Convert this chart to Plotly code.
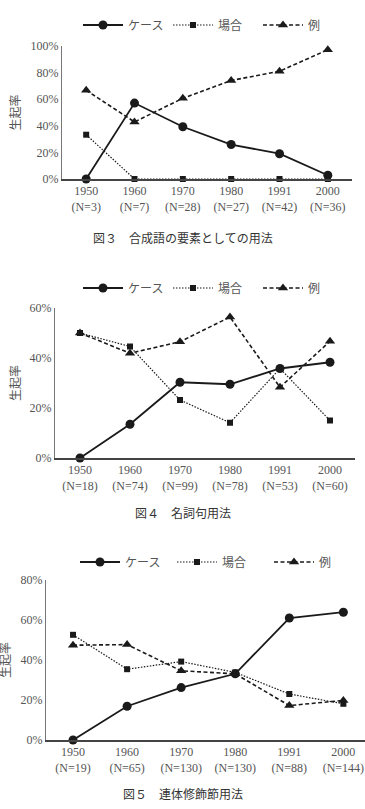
import plotly.graph_objects as go

# ---- data ----
years = ["1950", "1960", "1970", "1980", "1991", "2000"]
n1 = ["N=3", "N=7", "N=28", "N=27", "N=42", "N=36"]
n2 = ["N=18", "N=74", "N=99", "N=78", "N=53", "N=60"]
n3 = ["N=19", "N=65", "N=130", "N=130", "N=88", "N=144"]

series_names = ["ケース", "場合", "例"]

c1_case = [0.0, 57.1, 39.3, 25.9, 19.0, 2.8]
c1_baai = [33.3, 0.0, 0.0, 0.0, 0.0, 0.0]
c1_rei = [66.7, 42.9, 60.7, 74.1, 81.0, 97.2]

c2_case = [0.0, 13.5, 30.3, 29.5, 35.8, 38.3]
c2_baai = [50.0, 44.6, 23.2, 14.1, 35.8, 15.0]
c2_rei = [50.0, 41.9, 46.5, 56.4, 28.3, 46.7]

c3_case = [0.0, 16.9, 26.2, 33.1, 61.0, 63.9]
c3_baai = [52.6, 35.4, 39.2, 33.8, 23.0, 18.1]
c3_rei = [47.4, 47.7, 34.6, 33.1, 17.2, 19.8]

captions = ["図３　合成語の要素としての用法", "図４　名詞句用法", "図５　連体修飾節用法"]
ytitle = "生起率"

FONT = "Liberation Serif, Noto Sans CJK JP, serif"
GRAY = "#555555"
INK = "#1a1a1a"
H = 809
W = 365

def py(px):
    return 1 - px / H

def px_(x):
    return x / W

fig = go.Figure()

styles = [
    dict(dash="solid", width=1.8, symbol="circle", size=9),
    dict(dash="1.5px,1.5px", width=1.2, symbol="square", size=6),
    dict(dash="4px,2.5px", width=1.6, symbol="triangle-up", size=9),
]

charts = [
    dict(data=[c1_case, c1_baai, c1_rei], n=n1, xdom=[62, 352], ydom=[179, 46], yr=[0, 100],
         xr=[-0.5, 5.5], ticks=[0, 20, 40, 60, 80, 100], leg_y=25, leg_x=78, cap_y=239, yt_x=16,
         ew=35),
    dict(data=[c2_case, c2_baai, c2_rei], n=n2, xdom=[55, 355], ydom=[458, 308], yr=[0, 60],
         xr=[-0.5, 5.5], ticks=[0, 20, 40, 60], leg_y=288, leg_x=78, cap_y=513, yt_x=16,
         ew=35),
    dict(data=[c3_case, c3_baai, c3_rei], n=n3, xdom=[46, 365], ydom=[740, 580], yr=[0, 80],
         xr=[-0.5, 5.4], ticks=[0, 20, 40, 60, 80], leg_y=562, leg_x=75, cap_y=794, yt_x=6,
         ew=42),
]

layout = dict(
    width=W, height=H, margin=dict(l=0, r=0, t=0, b=0, autoexpand=False),
    paper_bgcolor="white", plot_bgcolor="white",
    font=dict(family=FONT, color=GRAY, size=12),
    showlegend=True,
)
annotations = []

for i, ch in enumerate(charts):
    k = "" if i == 0 else str(i + 1)
    xa = "x" + k
    ya = "y" + k
    leg = "legend" + k
    for j, vals in enumerate(ch["data"]):
        st = styles[j]
        fig.add_trace(go.Scatter(
            x=list(range(len(years))), y=vals, name=series_names[j],
            xaxis=xa, yaxis=ya, legend=leg, mode="lines+markers",
            line=dict(color=INK, dash=st["dash"], width=st["width"]),
            marker=dict(symbol=st["symbol"], size=st["size"], color=INK),
            cliponaxis=False,
        ))
    ticktext = [f"{y}<br>({n})" for y, n in zip(years, ch["n"])]
    layout["xaxis" + k] = dict(
        domain=[px_(ch["xdom"][0]), px_(ch["xdom"][1])], anchor=ya,
        range=ch["xr"], tickmode="array", tickvals=list(range(len(years))), ticktext=ticktext,
        showline=True, linecolor="#444444", linewidth=1.5, ticks="", showgrid=False,
        zeroline=False, tickfont=dict(size=12, color=GRAY, family=FONT),
        ticklabeloverflow="allow",
    )
    layout["yaxis" + k] = dict(
        domain=[py(ch["ydom"][0]), py(ch["ydom"][1])], anchor=xa,
        range=ch["yr"], tickmode="array", tickvals=ch["ticks"],
        ticktext=[f"{t}%" for t in ch["ticks"]],
        showline=True, linecolor="#777777", linewidth=1.2, ticks="", showgrid=False,
        zeroline=False, tickfont=dict(size=12, color=GRAY, family=FONT),
    )
    layout[leg] = dict(
        orientation="h", x=px_(ch["leg_x"]), xanchor="left", y=py(ch["leg_y"]), yanchor="middle",
        font=dict(size=12, color=GRAY, family=FONT), itemwidth=40, bgcolor="rgba(0,0,0,0)",
        itemclick=False, entrywidth=ch["ew"], entrywidthmode="pixels",
    )
    annotations.append(dict(
        text=captions[i], x=0.5, xref="paper", y=py(ch["cap_y"]), yref="paper",
        showarrow=False, xanchor="center", yanchor="middle",
        font=dict(size=12, color="#333333", family=FONT),
    ))
    annotations.append(dict(
        text=ytitle, x=px_(ch["yt_x"]), xref="paper",
        y=py((ch["ydom"][0] + ch["ydom"][1]) / 2), yref="paper",
        showarrow=False, xanchor="center", yanchor="middle", textangle=-90,
        font=dict(size=12, color=GRAY, family=FONT),
    ))

layout["annotations"] = annotations
fig.update_layout(**layout)
fig.write_html("out.html")
